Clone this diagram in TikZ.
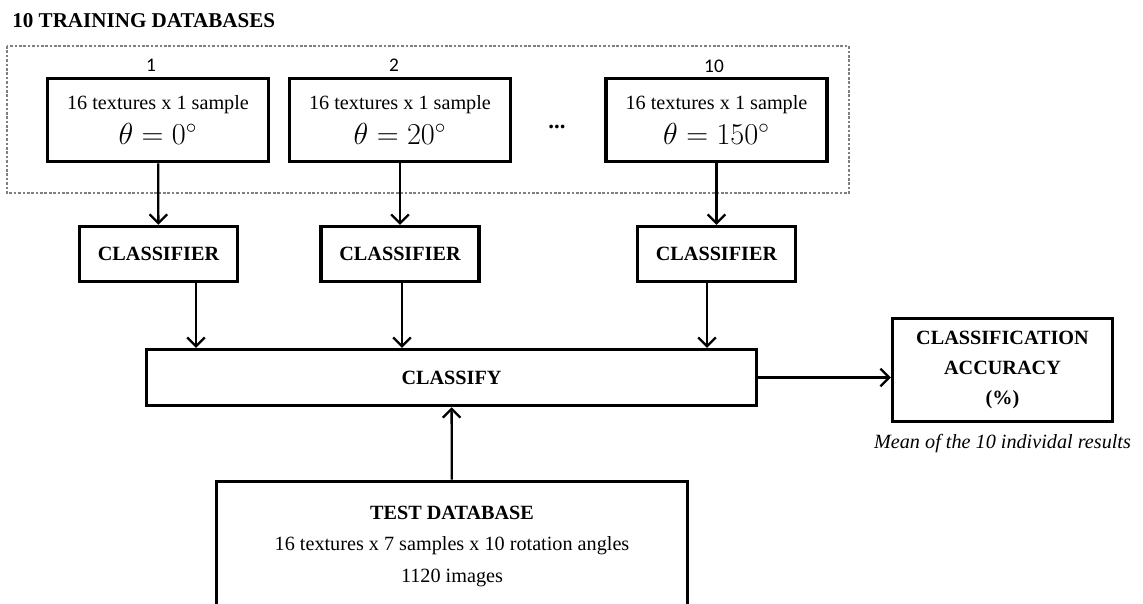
\documentclass[tikz,border=0pt]{standalone}
\usepackage{fontspec}
\setmainfont{Liberation Serif}
\newfontfamily\numfont{Carlito}
\usetikzlibrary{arrows.meta,positioning}

\newcommand\bodysize{\fontsize{11.5}{14}\selectfont}
\newcommand\anglesize{\fontsize{17.28}{20}\selectfont}

\tikzset{
  dbbox/.style={draw, line width=2pt, minimum width=4.42cm, minimum height=1.66cm, align=center, inner sep=0pt, font=\bodysize},
  clbox/.style={draw, line width=2pt, minimum width=3.16cm, minimum height=1.1cm, font=\bodysize\bfseries},
  numlabel/.style={font=\numfont\fontsize{11}{13}\selectfont},
  flow/.style={line width=1.3pt, -{Straight Barb[length=5pt,width=10pt]}},
}

\begin{document}
\begin{tikzpicture}[x=0.02cm, y=-0.02cm]
  \useasboundingbox (0,0) rectangle (1143,603);
  \clip (0,0) rectangle (1143,603);
  \node[anchor=base west, inner sep=0pt, font=\fontsize{12}{14}\selectfont\bfseries] (title) at (12,27) {10 TRAINING DATABASES};
  \draw[gray, line width=0.6pt, dash pattern=on 1.5pt off 1pt] (7,46) rectangle (849,193);
  % training databases
  \node[dbbox] (db1) at (158,120) {16 textures x 1 sample\\[5pt] {\anglesize$\theta = 0^{\circ}$}};
  \node[dbbox] (db2) at (400,120) {16 textures x 1 sample\\[5pt] {\anglesize$\theta = 20^{\circ}$}};
  \node[dbbox] (db10) at (716.5,120) {16 textures x 1 sample\\[5pt] {\anglesize$\theta = 150^{\circ}$}};
  \node[numlabel] (n1) at (151,65) {1};
  \node[numlabel] (n2) at (394,65) {2};
  \node[numlabel] (n10) at (714,66) {10};
  \node[font=\fontsize{13}{15}\selectfont\bfseries] (dots) at (557,127) {...};
  % classifiers
  \node[clbox] (cl1) at (158.5,254) {CLASSIFIER};
  \node[clbox] (cl2) at (400,254) {CLASSIFIER};
  \node[clbox] (cl3) at (716.5,254) {CLASSIFIER};
  \node[draw, line width=2pt, minimum width=12.2cm, minimum height=1.12cm, font=\bodysize\bfseries] (cls) at (451.5,377.5) {CLASSIFY};
  \node[draw, line width=2pt, minimum width=4.4cm, minimum height=2.06cm, align=center, font=\fontsize{11.5}{17}\selectfont\bfseries] (acc) at (1002.5,370) {CLASSIFICATION\\ACCURACY\\(\%)};
  \node[below=0.1cm of acc, font=\bodysize\itshape] (note) {Mean of the 10 individal results};
  \node[draw, line width=2pt, anchor=north, minimum width=9.42cm, minimum height=2.6cm, align=center, font=\fontsize{11.5}{18}\selectfont] (test) at (452,479.5) {\textbf{TEST DATABASE}\\16 textures x 7 samples x 10 rotation angles\\1120 images};
  % connectors
  \draw[flow] (db1) -- (cl1);
  \draw[flow] (db2) -- (cl2);
  \draw[flow] (db10) -- (cl3);
  \draw[flow] ([xshift=0.75cm]cl1.south) -- ([xshift=0.75cm]cl1.south |- cls.north);
  \draw[flow] ([xshift=0.04cm]cl2.south) -- ([xshift=0.04cm]cl2.south |- cls.north);
  \draw[flow] ([xshift=-0.19cm]cl3.south) -- ([xshift=-0.19cm]cl3.south |- cls.north);
  \draw[flow] (cls.east) -- (cls.east -| acc.west);
  \draw[flow] (test) -- (cls);
\end{tikzpicture}
\end{document}
